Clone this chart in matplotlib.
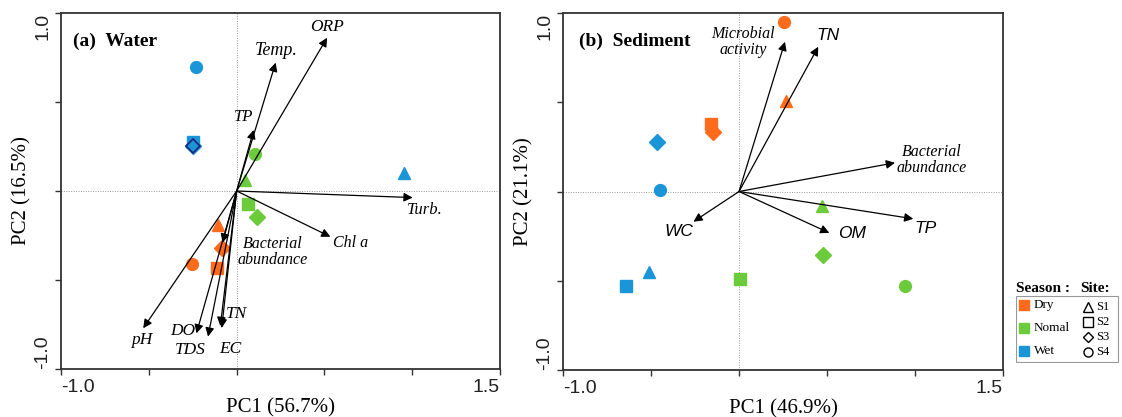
import matplotlib
matplotlib.use('Agg')
import matplotlib.pyplot as plt
from matplotlib.patches import Rectangle

# ---------------------------------------------------------------- data
seasons = ['Dry', 'Nomal', 'Wet']
sites = ['S1', 'S2', 'S3', 'S4']
season_colors = {'Dry': '#FF6B1A', 'Nomal': '#6CCB3A', 'Wet': '#1A95D8'}
site_markers = {'S1': '^', 'S2': 's', 'S3': 'D', 'S4': 'o'}

# water samples (PC1, PC2)
water_season = ['Dry', 'Dry', 'Dry', 'Dry', 'Nomal', 'Nomal', 'Nomal', 'Nomal', 'Wet', 'Wet', 'Wet', 'Wet']
water_site = ['S1', 'S2', 'S3', 'S4', 'S1', 'S2', 'S3', 'S4', 'S1', 'S2', 'S3', 'S4']
water_pc1 = [-0.106, -0.112, -0.081, -0.254, 0.049, 0.064, 0.115, 0.104, 0.951, -0.248, -0.248, -0.229]
water_pc2 = [-0.191, -0.431, -0.322, -0.410, 0.062, -0.073, -0.144, 0.208, 0.099, 0.277, 0.253, 0.698]

# water loadings
water_vars = ['ORP', 'Temp.', 'TP', 'Turb.', 'Chl a', 'Bacterial\nabundance', 'pH', 'DO', 'TDS', 'TN', 'EC']
water_vx = [0.515, 0.222, 0.097, 1.002, 0.534, -0.080, -0.532, -0.229, -0.163, -0.093, -0.085]
water_vy = [0.861, 0.721, 0.343, -0.037, -0.257, -0.290, -0.771, -0.800, -0.818, -0.758, -0.770]
water_lx = [0.515, 0.225, 0.041, 1.072, 0.646, 0.203, -0.542, -0.309, -0.263, -0.002, -0.034]
water_ly = [0.920, 0.790, 0.414, -0.107, -0.290, -0.344, -0.837, -0.787, -0.893, -0.693, -0.888]
water_fs = [12.5, 13, 12, 12, 11.5, 11.5, 12.5, 12.5, 12.5, 12.5, 12.5]

# sediment samples
sed_season = ['Dry', 'Dry', 'Dry', 'Dry', 'Nomal', 'Nomal', 'Nomal', 'Nomal', 'Wet', 'Wet', 'Wet', 'Wet']
sed_site = ['S1', 'S2', 'S3', 'S4', 'S1', 'S2', 'S3', 'S4', 'S1', 'S2', 'S3', 'S4']
sed_pc1 = [0.267, -0.159, -0.146, 0.256, 0.470, 0.006, 0.476, 0.943, -0.511, -0.642, -0.468, -0.449]
sed_pc2 = [0.507, 0.380, 0.333, 0.951, -0.079, -0.491, -0.354, -0.532, -0.453, -0.532, 0.277, 0.006]

# sediment loadings
sed_vars = ['Microbial\nactivity', 'TN', 'Bacterial\nabundance', 'TP', 'OM', 'WC']
sed_vx = [0.261, 0.450, 0.886, 0.990, 0.513, -0.259]
sed_vy = [0.839, 0.811, 0.161, -0.153, -0.232, -0.169]
sed_lx = [0.024, 0.507, 1.097, 1.062, 0.640, -0.339]
sed_ly = [0.839, 0.876, 0.178, -0.210, -0.238, -0.223]
sed_sans = [False, True, False, True, True, True]

SERIF = 'Liberation Serif'
SANS = 'Liberation Sans'

fig = plt.figure(figsize=(11.22, 4.17), dpi=100)
ax_a = fig.add_axes([0.0544, 0.1151, 0.3913, 0.8537])
ax_b = fig.add_axes([0.5018, 0.1127, 0.3922, 0.8561])


def setup(ax, xlabel, ylabel):
    ax.set_xlim(-1.0, 1.5)
    ax.set_ylim(-1.0, 1.0)
    ax.axhline(0, color='#999999', lw=0.7, ls=(0, (1, 1.5)), zorder=0)
    ax.axvline(0, color='#999999', lw=0.7, ls=(0, (1, 1.5)), zorder=0)
    for s in ax.spines.values():
        s.set_color('#333333')
        s.set_linewidth(1.3)
    ax.set_xticks([-1.0, -0.5, 0, 0.5, 1.0, 1.5])
    ax.set_yticks([-1.0, -0.5, 0, 0.5, 1.0])
    ax.set_xticklabels(['-1.0', '', '', '', '', '1.5'], family=SANS, fontsize=14)
    ax.set_yticklabels(['-1.0', '', '', '', '1.0'], family=SANS, fontsize=14, rotation=90)
    ax.tick_params(direction='out', length=4, width=1, color='#333333',
                   labelcolor='#222222', pad=3)
    xl = ax.get_xticklabels()
    xl[0].set_ha('left')
    xl[-1].set_ha('right')
    yl = ax.get_yticklabels()
    yl[0].set_va('bottom')
    yl[-1].set_va('top')
    ax.set_xlabel(xlabel, family=SERIF, fontsize=15, labelpad=2)
    ax.set_ylabel(ylabel, family=SERIF, fontsize=15, labelpad=2)


def points(ax, season, site, xs, ys):
    for se, si, x, y in zip(season, site, xs, ys):
        ax.plot(x, y, marker=site_markers[si], ls='none',
                ms=8 if si in ('S1', 'S3') else 8.5,
                color=season_colors[se], mec=season_colors[se], zorder=3)


def arrows(ax, vx, vy):
    for x, y in zip(vx, vy):
        ax.annotate('', xy=(x, y), xytext=(0, 0),
                    arrowprops=dict(arrowstyle='-|>', color='black', lw=0.9,
                                    mutation_scale=13, shrinkA=0, shrinkB=0),
                    zorder=4)


# ---------------------------------------------------------------- (a) water
setup(ax_a, 'PC1 (56.7%)', 'PC2 (16.5%)')
points(ax_a, water_season, water_site, water_pc1, water_pc2)
# wet S3 diamond has a dark outline
ax_a.plot(water_pc1[10], water_pc2[10], marker='D', ms=7, color=season_colors['Wet'],
          mec='#1a237e', mew=1.2, ls='none', zorder=3.5)
arrows(ax_a, water_vx, water_vy)
for name, x, y, fs in zip(water_vars, water_lx, water_ly, water_fs):
    ax_a.text(x, y, name, family=SERIF, style='italic', fontsize=fs,
              ha='center', va='center', linespacing=1.0, zorder=5)
ax_a.text(-0.93, 0.84, '(a)  Water', family=SERIF, weight='bold', fontsize=14,
          ha='left', va='center')

# ---------------------------------------------------------------- (b) sediment
setup(ax_b, 'PC1 (46.9%)', 'PC2 (21.1%)')
points(ax_b, sed_season, sed_site, sed_pc1, sed_pc2)
arrows(ax_b, sed_vx, sed_vy)
for name, x, y, sans in zip(sed_vars, sed_lx, sed_ly, sed_sans):
    if sans:
        ax_b.text(x, y, name, family=SANS, style='italic', fontsize=12.5,
                  ha='center', va='center', zorder=5)
    else:
        ax_b.text(x, y, name, family=SERIF, style='italic', fontsize=11.5,
                  ha='center', va='center', linespacing=1.0, zorder=5)
ax_b.text(-0.91, 0.84, '(b)  Sediment', family=SERIF, weight='bold', fontsize=14,
          ha='left', va='center')

# ---------------------------------------------------------------- legend
lg = fig.add_axes([1016 / 1122, 54 / 417, 104 / 1122, 80 / 417])
lg.set_xlim(0, 104)
lg.set_ylim(80, 0)
lg.axis('off')
lg.add_patch(Rectangle((0, 13), 102, 66, fill=False, ec='#999999', lw=0.8))
lg.text(0, 5, 'Season :', family=SERIF, weight='bold', fontsize=11, ha='left', va='center')
lg.text(64, 5, 'Site:', family=SERIF, weight='bold', fontsize=11, ha='left', va='center')
for i, se in enumerate(seasons):
    yy = 22 + i * 23
    lg.plot(8, yy, marker='s', ms=7, color=season_colors[se], ls='none')
    lg.text(18, yy, se, family=SERIF, fontsize=9.5, ha='left', va='center')
for i, si in enumerate(sites):
    yy = 24 + i * 15
    lg.plot(72, yy, marker=site_markers[si], ms=6.5 if si != 'S3' else 5.5,
            mfc='none', mec='black', mew=1.0, ls='none')
    lg.text(80, yy, si, family=SERIF, fontsize=9, ha='left', va='center')

plt.savefig('out.png', dpi=100)
